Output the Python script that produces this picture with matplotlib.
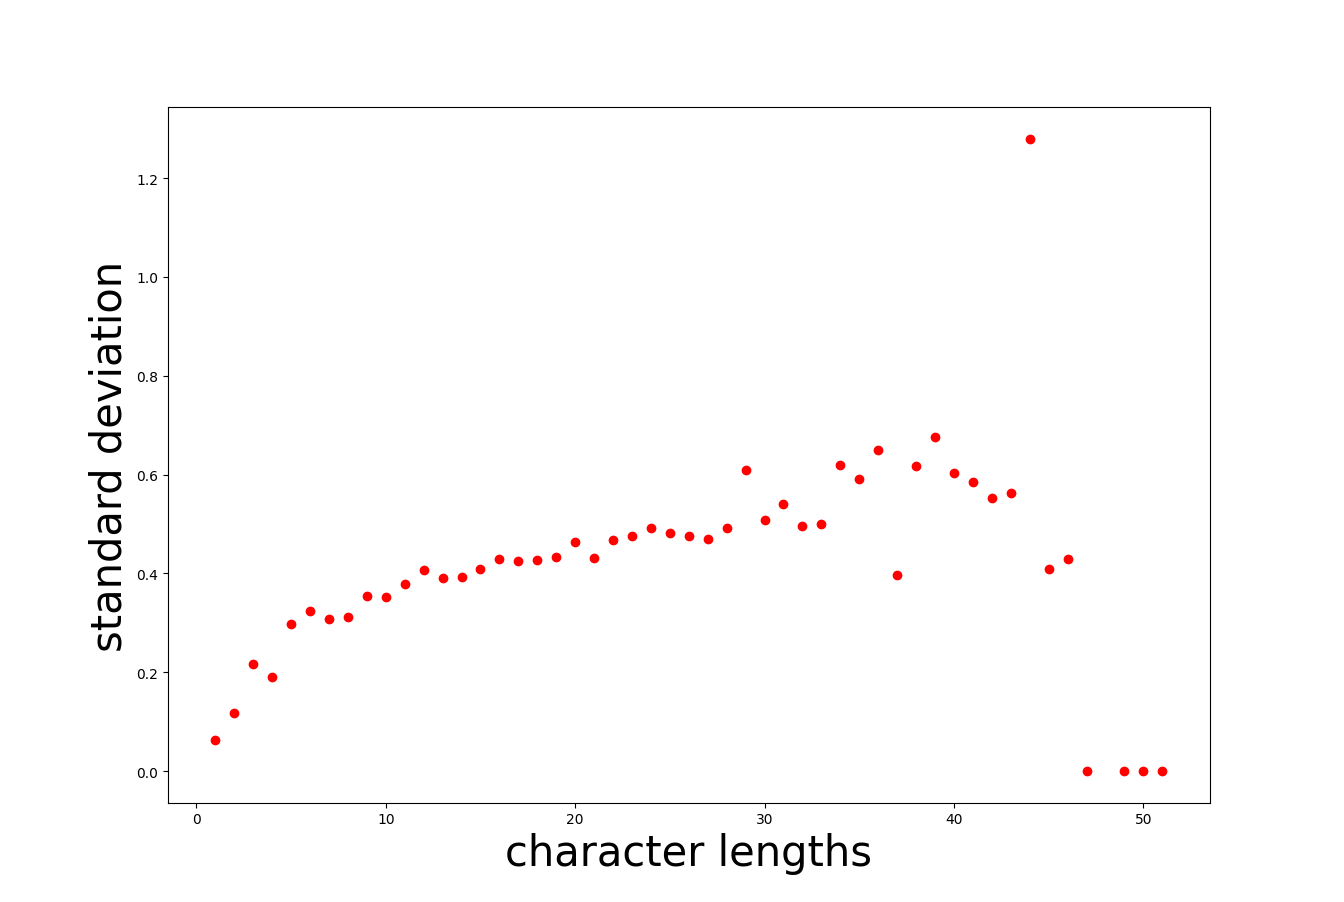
import matplotlib

matplotlib.use("Agg")
import matplotlib.pyplot as plt

# character length -> std dev of scores (48 has no value)
lengths = [1, 2, 3, 4, 5, 6, 7, 8, 9, 10,
           11, 12, 13, 14, 15, 16, 17, 18, 19, 20,
           21, 22, 23, 24, 25, 26, 27, 28, 29, 30,
           31, 32, 33, 34, 35, 36, 37, 38, 39, 40,
           41, 42, 43, 44, 45, 46, 47, 49, 50, 51]
std_devs = [0.063, 0.117, 0.216, 0.190, 0.297, 0.323, 0.307, 0.311, 0.354, 0.352,
            0.378, 0.406, 0.390, 0.392, 0.408, 0.430, 0.426, 0.428, 0.434, 0.463,
            0.432, 0.467, 0.475, 0.491, 0.481, 0.475, 0.469, 0.491, 0.610, 0.507,
            0.541, 0.495, 0.499, 0.620, 0.590, 0.650, 0.396, 0.618, 0.675, 0.604,
            0.584, 0.552, 0.562, 1.279, 0.408, 0.430, 0.0, 0.0, 0.0, 0.0]

fig = plt.figure(figsize=(13.44, 9.03), dpi=100)
plt.scatter(lengths, std_devs, color="red")
plt.xlabel("character lengths", fontsize=30)
plt.ylabel("standard deviation", fontsize=30)
fig.savefig("out.png", dpi=100)
